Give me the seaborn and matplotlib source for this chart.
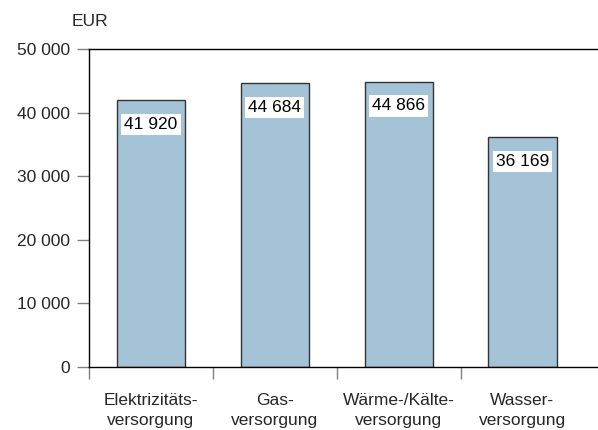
import numpy as np
import matplotlib.pyplot as plt
import seaborn as sns

categories = ['Elektrizitäts-\nversorgung', 'Gas-\nversorgung',
              'Wärme-/Kälte-\nversorgung', 'Wasser-\nversorgung']
values = [41920, 44684, 44866, 36169]
value_labels = ['41 920', '44 684', '44 866', '36 169']
yticks = [0, 10000, 20000, 30000, 40000, 50000]
ytick_labels = ['0', '10 000', '20 000', '30 000', '40 000', '50 000']

sns.set_style('ticks')
plt.rcParams['font.family'] = ['Liberation Sans', 'DejaVu Sans']

fig = plt.figure(figsize=(5.98, 4.30), dpi=100)
ax = fig.add_axes([0.1488, 0.1465, 0.8512, 0.7395])

sns.barplot(x=categories, y=values, color='#a5c3d7', saturation=1,
            edgecolor='#333333', linewidth=1, width=0.55, ax=ax)

# value boxes just below the bar tops
for i, (v, lab) in enumerate(zip(values, value_labels)):
    ax.annotate(lab, (i, v), xytext=(0, -17.5), textcoords='offset points',
                ha='center', va='center', fontsize=12.5, color='black',
                bbox=dict(fc='white', ec='none', pad=2.2))

ax.set_ylim(0, 50000)
ax.set_xlim(-0.5, 3.61)
ax.set_yticks(yticks)
ax.set_yticklabels(ytick_labels, fontsize=12.5)
ax.tick_params(axis='y', length=8.6, width=1, color='#808080', pad=5)

ax.set_xticks(range(len(categories)))
ax.set_xticklabels(categories, fontsize=12.5, linespacing=1.4)
ax.tick_params(axis='x', which='major', length=0, pad=19)
ax.set_xticks([-0.5, 0.5, 1.5, 2.5], minor=True)
ax.tick_params(axis='x', which='minor', length=8.6, width=1, color='#808080')

for s in ['left', 'bottom', 'top']:
    ax.spines[s].set_color('black')
    ax.spines[s].set_linewidth(1)
ax.spines['right'].set_visible(False)

fig.text(0.1505, 0.951, 'EUR', ha='center', va='center', fontsize=12.5)

plt.savefig('out.png', dpi=100)
